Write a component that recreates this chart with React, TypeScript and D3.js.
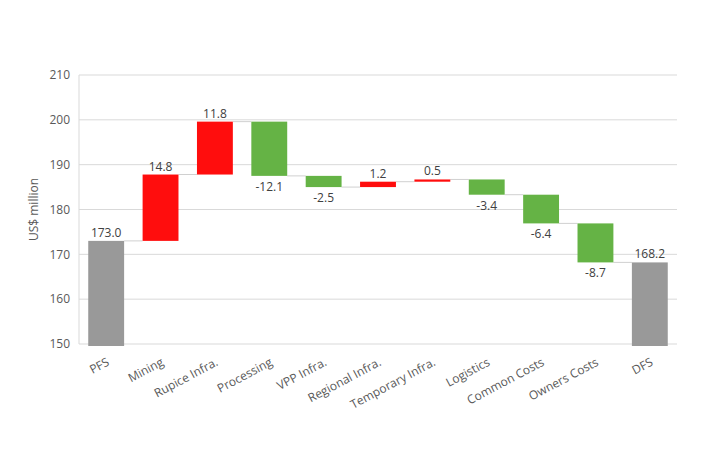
import { useEffect, useRef } from 'react'
import * as d3 from 'd3'

const categories = ['PFS', 'Mining', 'Rupice Infra.', 'Processing', 'VPP Infra.', 'Regional Infra.', 'Temporary Infra.', 'Logistics', 'Common Costs', 'Owners Costs', 'DFS']
const deltas = [173.0, 14.8, 11.8, -12.1, -2.5, 1.2, 0.5, -3.4, -6.4, -8.7, 168.2]
const isTotal = [true, false, false, false, false, false, false, false, false, false, true]
const yTicks = [150, 160, 170, 180, 190, 200, 210]

interface Step {
  name: string
  value: number
  start: number
  end: number
  total: boolean
}

export default function App() {
  const svgRef = useRef<SVGSVGElement>(null)

  useEffect(() => {
    if (!svgRef.current) return
    const svg = d3.select(svgRef.current)
    svg.selectAll('*').remove()

    const width = 709
    const height = 473
    const margin = { top: 75, right: 32, bottom: 129, left: 79 }

    // build the running totals
    let run = 0
    const steps: Step[] = categories.map((name, i) => {
      const v = deltas[i]
      if (isTotal[i]) {
        run = v
        return { name, value: v, start: 150, end: v, total: true }
      }
      const s = run
      run = run + v
      return { name, value: v, start: s, end: run, total: false }
    })

    const x = d3.scaleBand<string>()
      .domain(categories)
      .range([margin.left, width - margin.right])
      .paddingInner(0.34)
      .paddingOuter(0.17)

    const y = d3.scaleLinear()
      .domain([150, 210])
      .range([height - margin.bottom, margin.top])

    const font = '"Open Sans", "Noto Sans", sans-serif'
    const textColor = '#595959'

    // gridlines
    svg.append('g')
      .selectAll('line')
      .data(yTicks)
      .enter()
      .append('line')
      .attr('x1', margin.left)
      .attr('x2', width - margin.right)
      .attr('y1', d => y(d))
      .attr('y2', d => y(d))
      .style('stroke', '#d9d9d9')
      .style('stroke-width', '1px')

    // left axis line
    svg.append('line')
      .attr('x1', margin.left)
      .attr('x2', margin.left)
      .attr('y1', y(210))
      .attr('y2', y(150))
      .style('stroke', '#d9d9d9')

    // y tick labels
    svg.append('g')
      .selectAll('text')
      .data(yTicks)
      .enter()
      .append('text')
      .attr('x', margin.left - 9)
      .attr('y', d => y(d))
      .attr('dy', '0.35em')
      .style('text-anchor', 'end')
      .style('font-family', font)
      .style('font-size', '12px')
      .style('fill', textColor)
      .text(d => d)

    // axis title
    svg.append('text')
      .attr('transform', `translate(38,${(y(150) + y(210)) / 2}) rotate(-90)`)
      .style('text-anchor', 'middle')
      .style('font-family', font)
      .style('font-size', '12px')
      .style('fill', textColor)
      .text('US$ million')

    // connectors
    svg.append('g')
      .selectAll('line')
      .data(steps.slice(0, -1))
      .enter()
      .append('line')
      .attr('x1', (d) => (x(d.name) ?? 0) + x.bandwidth())
      .attr('x2', (d, i) => x(categories[i + 1]) ?? 0)
      .attr('y1', d => y(d.end))
      .attr('y2', d => y(d.end))
      .style('stroke', '#d0d0d0')
      .style('stroke-width', '1px')

    const color = (d: Step) => d.total ? '#999999' : d.value >= 0 ? '#ff0d0d' : '#65b345'

    // bars
    svg.append('g')
      .selectAll('rect')
      .data(steps)
      .enter()
      .append('rect')
      .attr('x', d => x(d.name) ?? 0)
      .attr('width', x.bandwidth())
      .attr('y', d => y(Math.max(d.start, d.end)))
      .attr('height', d => Math.abs(y(d.start) - y(d.end)) + (d.total ? 2 : 0))
      .style('fill', color)

    // value labels
    svg.append('g')
      .selectAll('text')
      .data(steps)
      .enter()
      .append('text')
      .attr('x', d => (x(d.name) ?? 0) + x.bandwidth() / 2)
      .attr('y', d => d.total || d.value >= 0 ? y(Math.max(d.start, d.end)) - 4 : y(Math.min(d.start, d.end)) + 15)
      .style('text-anchor', 'middle')
      .style('font-family', font)
      .style('font-size', '12px')
      .style('fill', '#404040')
      .text(d => d.value.toFixed(1))

    // category labels
    svg.append('g')
      .selectAll('text')
      .data(categories)
      .enter()
      .append('text')
      .attr('transform', d => `translate(${(x(d) ?? 0) + x.bandwidth() / 2 + 2},${y(150) + 17}) rotate(-28)`)
      .attr('dy', '0.35em')
      .style('text-anchor', 'end')
      .style('font-family', font)
      .style('font-size', '12px')
      .style('fill', textColor)
      .text(d => d)
  }, [])

  return (
    <svg ref={svgRef} width={709} height={473} style={{ display: 'block', position: 'absolute', left: 0, top: 0, background: '#fff' }} />
  )
}
